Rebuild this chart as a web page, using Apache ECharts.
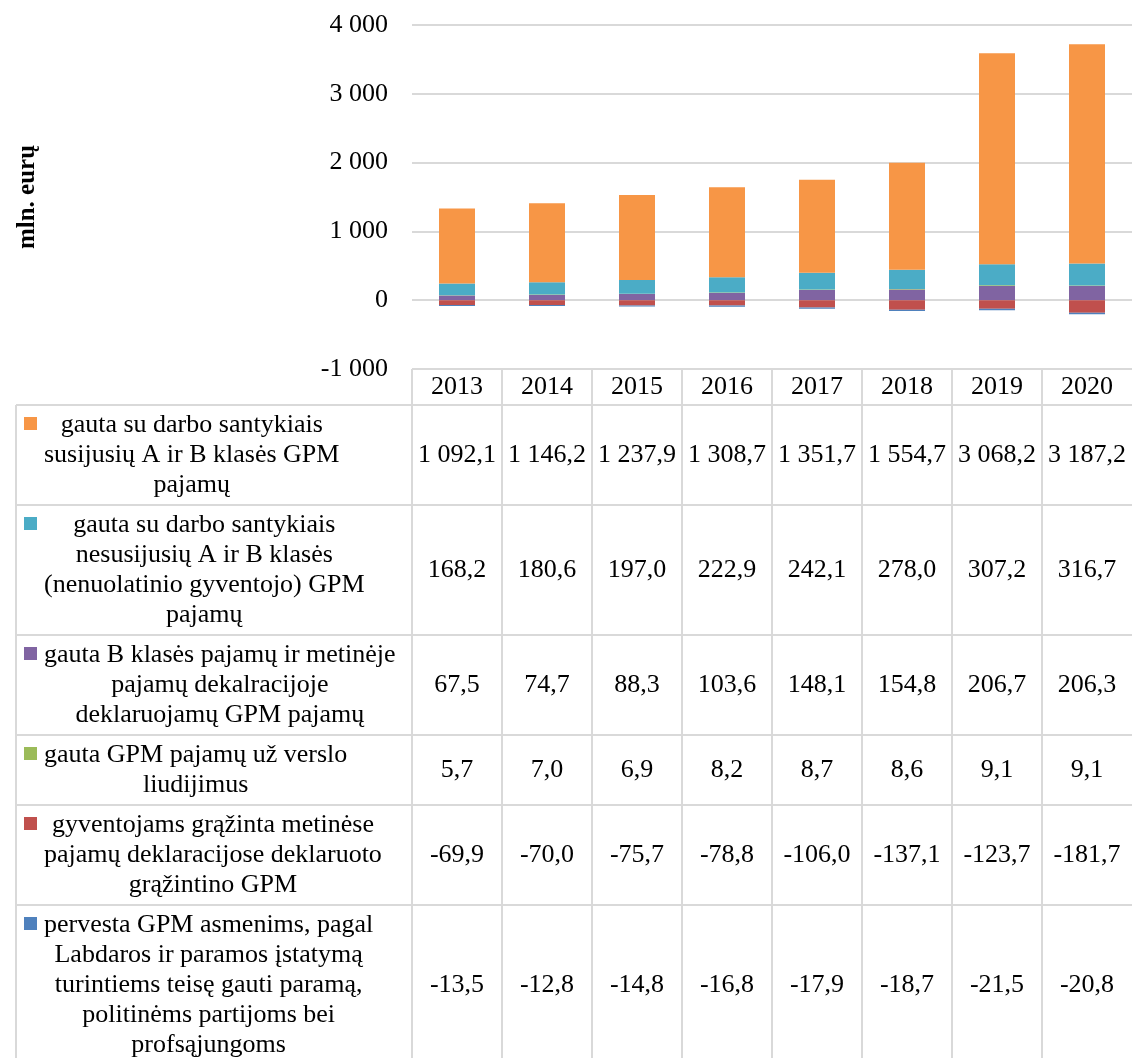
<!DOCTYPE html>
<html>
<head>
<meta charset="utf-8">
<script src="https://cdn.jsdelivr.net/npm/echarts@6/dist/echarts.min.js"></script>
<style>
  html, body { margin: 0; padding: 0; background: #fff; }
  #chart { width: 1132px; height: 1058px; }
</style>
</head>
<body>
<div id="chart"></div>
<script>
// data
const years = ["2013", "2014", "2015", "2016", "2017", "2018", "2019", "2020"];
const seriesNames = [
  "gauta su darbo santykiais\nsusijusių A ir B klasės GPM\npajamų",
  "gauta su darbo santykiais\nnesusijusių A ir B klasės\n(nenuolatinio gyventojo) GPM\npajamų",
  "gauta B klasės pajamų ir metinėje\npajamų dekalracijoje\ndeklaruojamų GPM pajamų",
  "gauta GPM pajamų už verslo\nliudijimus",
  "gyventojams grąžinta metinėse\npajamų deklaracijose deklaruoto\ngrąžintino GPM",
  "pervesta GPM asmenims, pagal\nLabdaros ir paramos įstatymą\nturintiems teisę gauti paramą,\npolitinėms partijoms bei\nprofsąjungoms"
];
const darboSusij = [1092.1, 1146.2, 1237.9, 1308.7, 1351.7, 1554.7, 3068.2, 3187.2];
const darboNesusij = [168.2, 180.6, 197.0, 222.9, 242.1, 278.0, 307.2, 316.7];
const bKlases = [67.5, 74.7, 88.3, 103.6, 148.1, 154.8, 206.7, 206.3];
const verslo = [5.7, 7.0, 6.9, 8.2, 8.7, 8.6, 9.1, 9.1];
const grazinta = [-69.9, -70.0, -75.7, -78.8, -106.0, -137.1, -123.7, -181.7];
const pervesta = [-13.5, -12.8, -14.8, -16.8, -17.9, -18.7, -21.5, -20.8];
const yTicks = [-1000, 0, 1000, 2000, 3000, 4000];

const seriesValues = [darboSusij, darboNesusij, bKlases, verslo, grazinta, pervesta];
const colors = ["#F79646", "#4BACC6", "#8064A2", "#9BBB59", "#C0504D", "#4F81BD"];
// stacking order, bottom-up (positive) and from zero down (negative)
const stackOrder = [2, 3, 1, 0, 4, 5];

const FONT = '"Liberation Serif", "Times New Roman", serif';
const FS = 26;
const LINE_H = 30;

function groupThousands(s) {
  return s.replace(/\B(?=(\d{3})+(?!\d))/g, " ");
}
function fmtVal(v) {
  const parts = Math.abs(v).toFixed(1).split(".");
  return (v < 0 ? "-" : "") + groupThousands(parts[0]) + "," + parts[1];
}
function fmtTick(v) {
  return (v < 0 ? "-" : "") + groupThousands(String(Math.abs(v)));
}

// layout of plot + table
const gridLeft = 412, gridTop = 25, gridW = 720, gridH = 344;
const colW = gridW / years.length;
const tableLeft = 16;
const headerTop = gridTop + gridH;
const headerH = 36;

const measureCtx = document.createElement("canvas").getContext("2d");
measureCtx.font = FS + "px " + FONT;

const lineColor = "#D9D9D9";
const graphic = [];
function hLine(x1, x2, y) {
  graphic.push({ type: "line", silent: true, shape: { x1: x1, y1: y, x2: x2, y2: y },
    style: { stroke: lineColor, lineWidth: 2 } });
}
function vLine(x, y1, y2) {
  graphic.push({ type: "line", silent: true, shape: { x1: x, y1: y1, x2: x, y2: y2 },
    style: { stroke: lineColor, lineWidth: 2 } });
}

// header row
hLine(gridLeft, gridLeft + gridW, headerTop);
years.forEach((y, i) => {
  graphic.push({ type: "text", silent: true, style: {
    text: y, x: gridLeft + colW * (i + 0.5), y: headerTop + headerH / 2,
    font: FS + "px " + FONT, fill: "#000", align: "center", verticalAlign: "middle" } });
});

let rowTop = headerTop + headerH;
hLine(tableLeft, gridLeft + gridW, rowTop);
seriesNames.forEach((name, r) => {
  const lines = name.split("\n");
  const rowH = lines.length * LINE_H + 10;
  const midY = rowTop + rowH / 2;
  const firstLineY = rowTop + 5 + LINE_H / 2;
  const blockW = Math.max(...lines.map(l => measureCtx.measureText(l).width));
  graphic.push({ type: "rect", silent: true,
    shape: { x: 24, y: firstLineY - 8, width: 13, height: 13 },
    style: { fill: colors[r] } });
  graphic.push({ type: "text", silent: true, style: {
    text: name, x: 44 + blockW / 2, y: midY, font: FS + "px " + FONT, lineHeight: LINE_H,
    fill: "#000", align: "center", verticalAlign: "middle" } });
  seriesValues[r].forEach((v, i) => {
    graphic.push({ type: "text", silent: true, style: {
      text: fmtVal(v), x: gridLeft + colW * (i + 0.5), y: midY,
      font: FS + "px " + FONT, fill: "#000", align: "center", verticalAlign: "middle" } });
  });
  rowTop += rowH;
  hLine(tableLeft, gridLeft + gridW, rowTop);
});
vLine(tableLeft, headerTop + headerH, rowTop);
for (let k = 0; k < years.length; k++) {
  vLine(gridLeft + colW * k, headerTop, rowTop);
}

const chart = echarts.init(document.getElementById("chart"), null, { renderer: "canvas" });
chart.setOption({
  animation: false,
  backgroundColor: "#fff",
  grid: { left: gridLeft, top: gridTop, width: gridW, height: gridH },
  xAxis: {
    type: "category",
    data: years,
    axisLine: { show: false },
    axisTick: { show: false },
    axisLabel: { show: false }
  },
  yAxis: {
    type: "value",
    min: yTicks[0],
    max: yTicks[yTicks.length - 1],
    interval: 1000,
    name: "mln. eurų",
    nameLocation: "middle",
    nameGap: 372,
    nameTextStyle: { fontFamily: FONT, fontSize: 25, fontWeight: "bold", color: "#000" },
    axisLine: { show: false },
    axisTick: { show: false },
    axisLabel: { fontFamily: FONT, fontSize: FS, color: "#000", margin: 24,
      formatter: v => fmtTick(v) },
    splitLine: { lineStyle: { color: lineColor, width: 2 } }
  },
  series: stackOrder.map(idx => ({
    name: seriesNames[idx],
    type: "bar",
    stack: "total",
    barWidth: "40%",
    itemStyle: { color: colors[idx] },
    data: seriesValues[idx]
  })),
  graphic: graphic
});
</script>
</body>
</html>
